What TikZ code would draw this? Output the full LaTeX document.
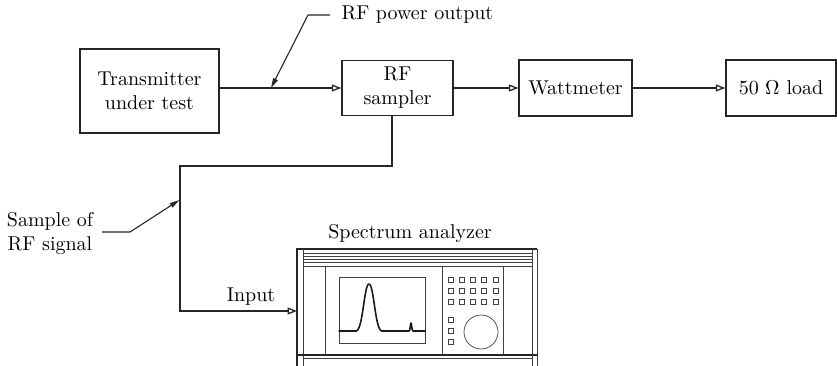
\documentclass[tikz,border=0pt]{standalone}
\usepackage{fontspec}
\usepackage{unicode-math}
\setmainfont{lmroman10-regular}[Extension=.otf]
\usetikzlibrary{arrows.meta,calc}
\begin{document}
\begin{tikzpicture}[x=1pt,y=-1pt,
  every node/.style={font=\fontsize{20}{24}\selectfont, text=black},
  block/.style={draw=black!85, line width=1.3pt, inner sep=0pt, align=center},
  flow/.style={draw=black!85, line width=1.3pt, -{Triangle[open,length=9.5pt,width=7pt]}},
  leader/.style={draw=black!85, line width=1.1pt, -{Stealth[length=10pt,width=5pt,inset=0pt]}},
  panel/.style={draw=black!75, line width=0.7pt},
  heavy/.style={draw=black!85, line width=1.5pt},
]
\useasboundingbox (0,0) rectangle (837,366);

% main signal chain
\node[block, minimum width=139pt, minimum height=84pt] (tx) at (149.5,91) {Transmitter\\under test};
\node[block, minimum width=111pt, minimum height=55pt] (rf) at (397.5,88) {RF\\sampler};
\node[block, minimum width=113pt, minimum height=56pt] (watt) at (575.5,88) {Wattmeter};
\node[block, minimum width=110pt, minimum height=56pt] (load) at (781,88) {50 $\Omega$ load};

\draw[flow] (tx.east |- rf.west) -- (rf.west);
\draw[flow] (rf.east) -- (watt.west);
\draw[flow] (watt.east) -- (load.west);

% sampled output to the analyzer input
\coordinate (tap) at ($(rf.south)+(-5.5,0)$);
\coordinate (bend) at (180,166);
\coordinate (in) at (297,311);
\draw[flow] (tap) |- (bend) |- (in);

% callouts
\node[anchor=west] (rfp) at (338,15) {RF power output};
\coordinate (k1) at (330,15);
\coordinate (k2) at (308,15);
\coordinate (t1) at (271,88);
\draw[leader] (k1) -- (k2) -- (t1);

\node[align=center] (smp) at (50,234) {Sample of\\RF signal};
\coordinate (s1) at (102,232);
\coordinate (s2) at (130,232);
\coordinate (s3) at (179.5,200);
\draw[leader] (s1) -- (s2) -- (s3);

\node (inlbl) at (251,297) {Input};
\node (salbl) at (410,233) {Spectrum analyzer};

% spectrum analyzer front panel
\draw[heavy] (297,366) -- (297,249) -- (537,249);
\draw[panel] (303,249) -- (303,366);
\draw[panel] (532,249) -- (532,366);
\draw[panel] (537,249) -- (537,366);
\foreach \yy in {253,256,259,262} \draw[panel] (303,\yy) -- (532,\yy);
\draw[panel] (303,266) -- (532,266);
\draw[heavy] (297,355) -- (537,355);
\draw[panel] (303,358.5) -- (532,358.5);
\foreach \xx in {325,442,503} \draw[panel] (\xx,266) -- (\xx,355);

% display
\draw[panel] (339,277) rectangle (425,343);
\draw[line width=1.6pt, black!90, line join=round, line cap=round]
  (339,331) -- (356,331)
  .. controls (363,331) and (364,284) .. (369,284)
  .. controls (374,284) and (375,331) .. (382,331)
  -- (409,331)
  .. controls (410.3,331) and (410.3,323) .. (411,323)
  .. controls (411.7,323) and (411.7,331) .. (413,331)
  -- (425,331);

% keypad and knob
\foreach \r in {280,291,302}
  \foreach \c in {0,...,4}
    \draw[panel] ({448+11.25*\c},{\r-2.5}) rectangle ++(5,5);
\foreach \r in {320,331,342}
  \draw[panel] (448,{\r-2.5}) rectangle ++(5,5);
\draw[panel] (481,332) circle[radius=17];
\end{tikzpicture}
\end{document}
